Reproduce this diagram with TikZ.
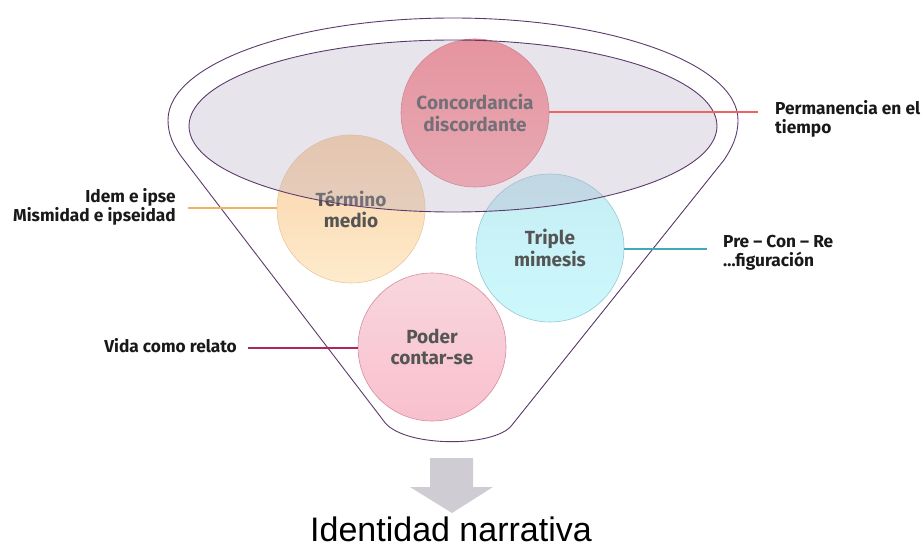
\documentclass[tikz,border=0pt]{standalone}
\usepackage{fontspec}
\setmainfont{Fira Sans}
\newfontfamily\titlefont{Liberation Sans}
\usetikzlibrary{calc}
\definecolor{outl}{RGB}{92,58,108}
\definecolor{ellfill}{RGB}{185,172,196}
\definecolor{bubtext}{RGB}{85,85,85}
\definecolor{labtext}{RGB}{25,25,25}
\definecolor{arrowgray}{RGB}{208,204,212}
\definecolor{redA}{RGB}{250,138,142}
\definecolor{redB}{RGB}{255,168,172}
\definecolor{redD}{RGB}{220,120,128}
\definecolor{orA}{RGB}{249,210,166}
\definecolor{orB}{RGB}{254,235,205}
\definecolor{orD}{RGB}{232,200,160}
\definecolor{tlA}{RGB}{198,238,244}
\definecolor{tlB}{RGB}{204,248,252}
\definecolor{tlD}{RGB}{150,200,210}
\definecolor{pkA}{RGB}{248,214,222}
\definecolor{pkB}{RGB}{249,192,206}
\definecolor{pkD}{RGB}{214,140,158}
\definecolor{lnred}{RGB}{236,100,100}
\definecolor{lnor}{RGB}{238,178,96}
\definecolor{lntl}{RGB}{64,168,184}
\definecolor{lnpk}{RGB}{170,40,92}
\tikzset{
  bub/.style={circle, minimum size=148pt, inner sep=0pt, align=center,
    line width=0.6pt, text=bubtext,
    font=\bfseries\fontsize{19}{21.5}\selectfont},
  lab/.style={inner sep=0pt, text=labtext,
    font=\bfseries\fontsize{17.3}{19.5}\selectfont},
  conn/.style={line width=2.6pt},
  funnel/.style={draw=outl, line width=0.9pt}
}
\begin{document}
\begin{tikzpicture}[x=1pt,y=-1pt]
\useasboundingbox (0,0) rectangle (924,548);
% circles
\node[bub, top color=redA, bottom color=redB, draw=redD] (cd) at (475,113) {Concordancia\\discordante};
\node[bub, top color=orA, bottom color=orB, draw=orD] (tm) at (351,209) {Término\\medio};
\node[bub, top color=tlA, bottom color=tlB, draw=tlD] (tr) at (550,248) {Triple\\mimesis};
\node[bub, top color=pkA, bottom color=pkB, draw=pkD] (pc) at (432,347) {Poder\\contar-se};
% inner ellipse
\path[fill=ellfill, fill opacity=0.32] (453,126) ellipse [x radius=264, y radius=86];
\draw[funnel] (453,126) ellipse [x radius=264, y radius=86];
% outer funnel
\draw[funnel] (383,420) -- (184,160)
  .. controls (173,146) and (168,134) .. (168,120)
  .. controls (168,63.7) and (295.6,18) .. (453,18)
  .. controls (610.4,18) and (738,63.7) .. (738,120)
  .. controls (738,136) and (732,148) .. (724,160)
  -- (512,425)
  .. controls (495,448) and (400,448) .. (383,420);
% labels (base anchor = last line)
\node[lab, anchor=base west, align=left] (l1) at (775,134) {Permanencia en el\\tiempo};
\node[lab, anchor=base east, align=right] (l2) at (176,222) {Idem e ipse\\Mismidad e ipseidad};
\node[lab, anchor=base west, align=left] (l3) at (723,267) {Pre – Con – Re\\…figuración};
\node[lab, anchor=base east] (l4) at (237,352) {Vida como relato};
% connectors
\coordinate (e1) at (758,112);
\coordinate (e2) at (188,208);
\coordinate (e3) at (707,249);
\coordinate (e4) at (248,348);
\draw[conn, lnred] (cd.east |- e1) -- (e1);
\draw[conn, lnor] (tm.west |- e2) -- (e2);
\draw[conn, lntl] (tr.east |- e3) -- (e3);
\draw[conn, lnpk] (pc.west |- e4) -- (e4);
% arrow
\fill[arrowgray] (430,458) -- (473,458) -- (473,487) -- (493,487) -- (452,513) -- (410,487) -- (430,487) -- cycle;
\node[anchor=base, inner sep=0pt, font=\titlefont\fontsize{34}{40}\selectfont] (title) at (451,541) {Identidad narrativa};
\end{tikzpicture}
\end{document}
